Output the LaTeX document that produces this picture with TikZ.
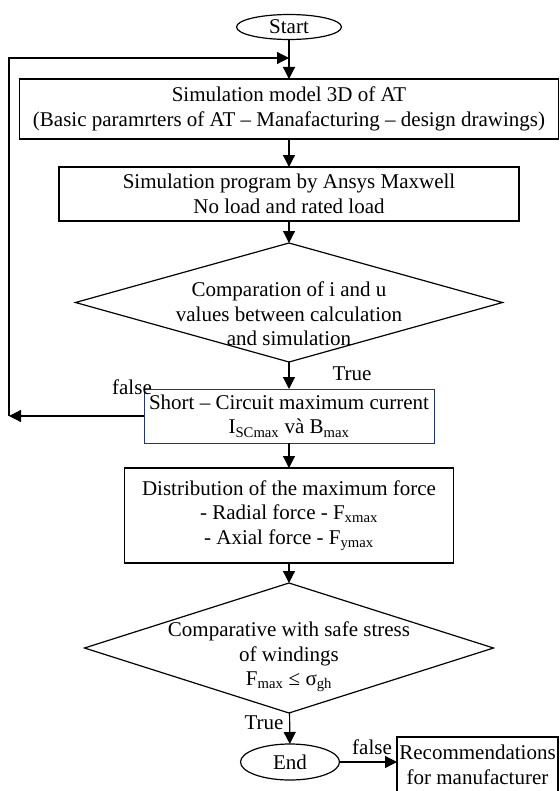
\documentclass[tikz,border=0pt]{standalone}
\usepackage{fontspec}
\setmainfont{Liberation Serif}
\usepackage{xcolor}
\usetikzlibrary{arrows.meta}
\usetikzlibrary{shapes.geometric}
\definecolor{navy}{RGB}{32,56,110}

\begin{document}
\begin{tikzpicture}[x=1bp,y=-1bp,
	font=\fontsize{21bp}{24.5bp}\selectfont,
	line width=1.2bp,
	arr/.style={-{Triangle[length=12bp,width=12bp]}},
	box/.style={draw,rectangle,align=center,inner sep=0pt,outer sep=0pt},
	dia/.style={draw,diamond,inner sep=0pt,outer sep=0pt},
	term/.style={draw,ellipse,inner sep=0pt,outer sep=0pt},
	lbl/.style={inner sep=0pt,align=center}]
	\useasboundingbox (0,0) rectangle (560,791);
	\node[term,minimum width=105bp,minimum height=25bp] (start) at (289,27) {Start};
	\node[box,minimum width=539bp,minimum height=60bp] (model) at (289,109) {Simulation model 3D of AT\\(Basic paramrters of AT – Manafacturing – design drawings)};
	\node[box,minimum width=460bp,minimum height=54bp] (prog) at (289,194) {Simulation program by Ansys Maxwell\\No load and rated load};
	\node[dia,minimum width=427bp,minimum height=119bp] (cmp) at (289,302.5) {};
	\node[lbl] (cmptext) at (289,314) {Comparation of i and u\\values between calculation\\and simulation};
	\node[box,draw=navy,line width=0.9bp,minimum width=290bp,minimum height=54bp] (short) at (289,416) {Short – Circuit maximum current\\I\textsubscript{SCmax} và B\textsubscript{max}};
	\node[box,minimum width=329bp,minimum height=95bp] (dist) at (289,515.5) {Distribution of the maximum force\\- Radial force - F\textsubscript{xmax}\\- Axial force - F\textsubscript{ymax}};
	\node[dia,minimum width=409bp,minimum height=130bp] (safe) at (289,648) {};
	\node[lbl] (safetext) at (289,657) {Comparative with safe stress\\of windings\\F\textsubscript{max} ≤ σ\textsubscript{gh}};
	\node[term,minimum width=99bp,minimum height=36bp] (end) at (290,762) {End};
	\node[box,minimum width=161bp,minimum height=56bp] (rec) at (477.5,765) {Recommendations\\for manufacturer};
	\coordinate (back) at (9,58);
	\draw[arr] (start) -- (model);
	\draw[arr] (model) -- (prog);
	\draw[arr] (prog) -- (cmp);
	\draw[arr] (cmp) -- (short);
	\draw[arr] (short) -- (dist);
	\draw[arr] (dist) -- (safe);
	\draw[arr] (safe) -- (end);
	\draw[arr] (end.east) -- (end.east -| rec.west);
	\draw[arr] (short.west) -- (short.west -| back);
	\draw[arr] (short.west -| back) |- (back -| start.south);
	\node[lbl] (true1) at (352,374) {True};
	\node[lbl] (false1) at (132,387) {false};
	\node[lbl] (true2) at (264,723) {True};
	\node[lbl] (false2) at (372,747) {false};
\end{tikzpicture}
\end{document}
